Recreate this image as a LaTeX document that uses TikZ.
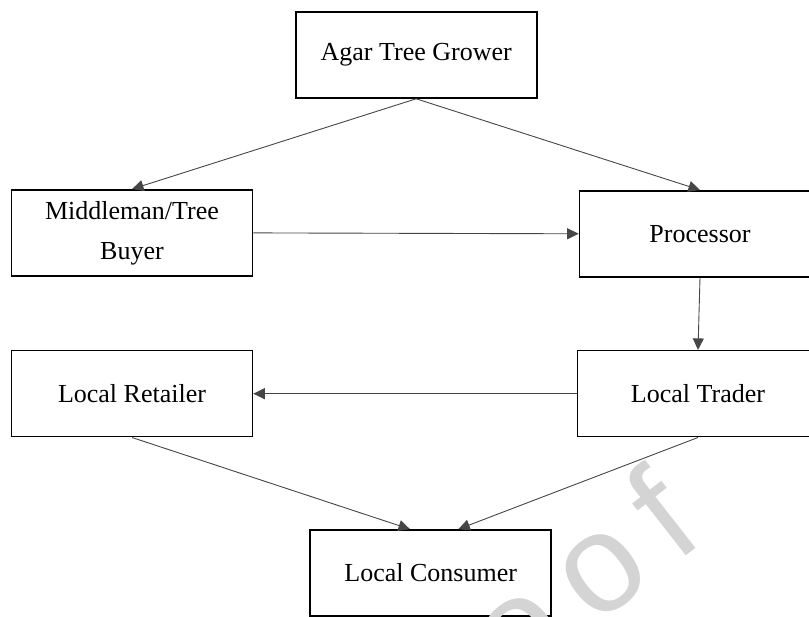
\documentclass[tikz,border=0pt]{standalone}
\usepackage{fontspec}
\setmainfont{Liberation Serif}
\newfontfamily\wmfont[LetterSpace=18]{Liberation Sans}
\usetikzlibrary{arrows.meta}
\definecolor{linegray}{RGB}{70,70,70}
\definecolor{wmgray}{RGB}{212,212,212}
\tikzset{
  box/.style={draw=black, line width=1.6pt, minimum width=241pt, minimum height=86pt,
    inner sep=0pt, align=center, font=\fontsize{26}{40}\selectfont},
  conn/.style={draw=linegray, line width=0.9pt,
    -{Triangle[length=11.5pt,width=11pt]}},
}
\begin{document}
\begin{tikzpicture}[x=1pt,y=-1pt]
\useasboundingbox (0,0) rectangle (809,617);
\clip (0,0) rectangle (809,617);
\node[box] (agar) at (416.2,55) {Agar Tree Grower};
\node[box] (mid) at (132,232.9) {Middleman/Tree\\Buyer};
\node[box] (proc) at (700,233.8) {Processor};
\node[box] (ret) at (132,393.7) {Local Retailer};
\node[box] (trad) at (698,393.7) {Local Trader};
\node[box] (cons) at (430.7,573) {Local Consumer};
\draw[conn] (agar.south) -- (mid.north);
\draw[conn] (agar.south) -- (proc.north);
\draw[conn] (mid.east) -- (proc.west);
\draw[conn] (proc.south) -- (trad.north);
\draw[conn] (trad.west) -- (ret.east);
\draw[conn] (ret.south) -- ([xshift=-20.7pt]cons.north);
\draw[conn] (trad.south) -- ([xshift=27.6pt]cons.north);
\node[anchor=base east, rotate=38, text=wmgray, inner sep=0pt,
  font=\wmfont\fontsize{140}{140}\selectfont] (wm) at (708,539) {Journal Pre-proof};
\end{tikzpicture}
\end{document}
